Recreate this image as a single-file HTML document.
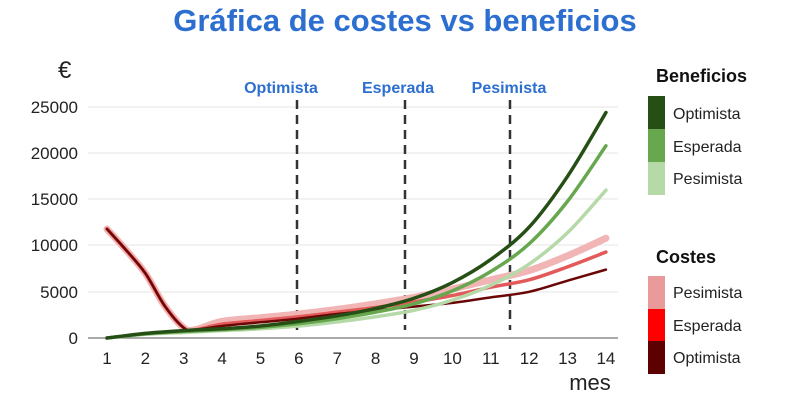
<!DOCTYPE html>
<html><head><meta charset="utf-8"><style>
html,body{margin:0;padding:0;background:#fff;}
svg{display:block;font-family:"Liberation Sans",sans-serif;}
</style></head><body>
<svg id="s" width="785" height="415" viewBox="0 0 785 415">
<text x="405" y="31" text-anchor="middle" font-size="31" font-weight="bold" fill="#2d6fd0">Gráfica de costes vs beneficios</text>
<text x="58" y="78" font-size="24" fill="#222">€</text>
<g stroke="#e4e4e4" stroke-width="1">
<line x1="88" x2="618" y1="107" y2="107"/><line x1="88" x2="618" y1="153" y2="153"/>
<line x1="88" x2="618" y1="199" y2="199"/><line x1="88" x2="618" y1="245" y2="245"/>
<line x1="88" x2="618" y1="292" y2="292"/>
</g>
<line x1="88" x2="618" y1="338" y2="338" stroke="#777" stroke-width="1.2"/>
<g font-size="17" fill="#222" text-anchor="end">
<text x="78" y="113">25000</text><text x="78" y="159">20000</text><text x="78" y="205">15000</text>
<text x="78" y="251">10000</text><text x="78" y="298">5000</text><text x="78" y="344">0</text>
</g>
<g id="xt" font-size="17" fill="#222" text-anchor="middle"></g>
<text x="590" y="390" font-size="22" fill="#222" text-anchor="middle">mes</text>
<g font-size="16" font-weight="bold" fill="#2d6fd0" text-anchor="middle">
<text x="281" y="93">Optimista</text><text x="398" y="93">Esperada</text><text x="509" y="93">Pesimista</text>
</g>
<g stroke="#333" stroke-width="2.5" stroke-dasharray="9,6">
<line x1="297" x2="297" y1="100" y2="330"/><line x1="405" x2="405" y1="100" y2="330"/><line x1="510" x2="510" y1="100" y2="330"/>
</g>
<g id="lines" fill="none" stroke-linecap="round" stroke-linejoin="round"></g>
<text x="656" y="82" font-size="18" font-weight="bold" fill="#111">Beneficios</text>
<rect x="648" y="96" width="17" height="33" fill="#264f16"/>
<rect x="648" y="129" width="17" height="33" fill="#67a84f"/>
<rect x="648" y="162" width="17" height="33" fill="#b6d9a8"/>
<g font-size="16" fill="#222"><text x="673" y="119">Optimista</text><text x="673" y="152">Esperada</text><text x="673" y="184">Pesimista</text></g>
<text x="656" y="263" font-size="18" font-weight="bold" fill="#111">Costes</text>
<rect x="648" y="276" width="17" height="33" fill="#e99a9a"/>
<rect x="648" y="309" width="17" height="33" fill="#ff0000"/>
<rect x="648" y="341" width="17" height="33" fill="#5c0000"/>
<g font-size="16" fill="#222"><text x="673" y="298">Pesimista</text><text x="673" y="331">Esperada</text><text x="673" y="363">Optimista</text></g>
</svg>
<script>
var X=function(m){return 107+(m-1)*38.38;},Y=function(v){return 338-v*231/25000;};
var xt=document.getElementById('xt');
for(var i=1;i<=14;i++){var t=document.createElementNS('http://www.w3.org/2000/svg','text');t.setAttribute('x',X(i));t.setAttribute('y',364);t.textContent=i;xt.appendChild(t);}
function mk(pts,col,w){
 var P=pts.map(function(p){return [X(p[0]),Y(p[1])];});
 var d='M'+P[0][0]+','+P[0][1];
 for(var i=0;i<P.length-1;i++){var p0=P[i-1]||P[i],p1=P[i],p2=P[i+1],p3=P[i+2]||p2;
  d+=' C'+(p1[0]+(p2[0]-p0[0])/6)+','+(p1[1]+(p2[1]-p0[1])/6)+' '+(p2[0]-(p3[0]-p1[0])/6)+','+(p2[1]-(p3[1]-p1[1])/6)+' '+p2[0]+','+p2[1];}
 var e=document.createElementNS('http://www.w3.org/2000/svg','path');e.setAttribute('d',d);e.setAttribute('stroke',col);e.setAttribute('stroke-width',w);document.getElementById('lines').appendChild(e);}
function ser(a){return a.map(function(v,i){return [i+1,v];});}
var head=[[1,11800],[1.5,9500],[2,7000],[2.5,3500],[3,1100],[3.3,900]];
function cost(a){return head.concat(a.map(function(v,i){return [i+4,v];}));}
mk(cost([1800,2200,2600,3100,3700,4400,5300,6300,7300,8900,10800]),'#f2b5b5',7);
mk(cost([1500,1900,2300,2800,3300,3900,4600,5500,6300,7700,9300]),'#e35a5a',3.5);
mk(cost([1300,1700,2100,2600,3000,3400,3800,4400,5000,6200,7400]),'#6a0606',2.5);
mk(ser([0,400,600,800,1000,1300,1750,2300,3000,4100,5700,8000,11400,16000]),'#b6d9a8',3.5);
mk(ser([0,450,700,900,1150,1550,2100,2800,3700,5100,7200,10200,14800,20800]),'#67a84f',3.5);
mk(ser([0,500,800,1000,1300,1800,2400,3200,4300,6000,8500,12000,17500,24400]),'#264f16',3.5);
</script>
</body></html>
